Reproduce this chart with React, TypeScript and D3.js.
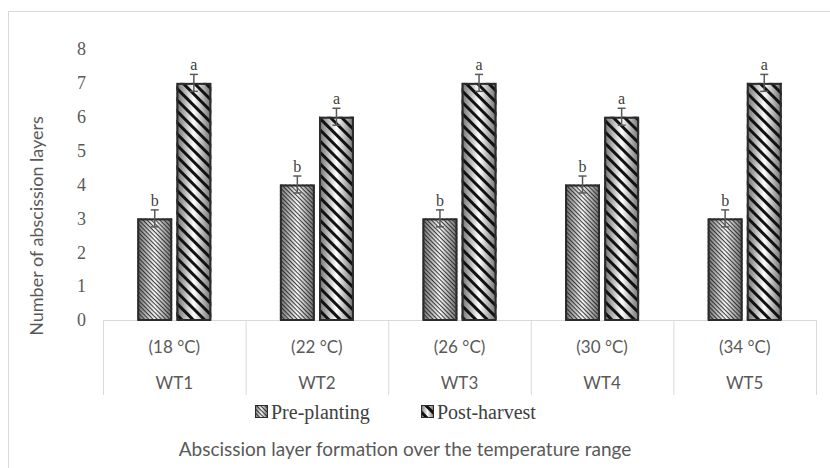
import React from "react";
import * as d3 from "d3";

const categories = ["WT1", "WT2", "WT3", "WT4", "WT5"];
const temps = ["(18 °C)", "(22 °C)", "(26 °C)", "(30 °C)", "(34 °C)"];
const seriesNames = ["Pre-planting", "Post-harvest"];
const prePlanting = [3, 4, 3, 4, 3];
const postHarvest = [7, 6, 7, 6, 7];
const preErr = [0.25, 0.25, 0.25, 0.25, 0.25];
const postErr = [0.25, 0.25, 0.25, 0.25, 0.25];
const preLetters = ["b", "b", "b", "b", "b"];
const postLetters = ["a", "a", "a", "a", "a"];
const yTicks = [0, 1, 2, 3, 4, 5, 6, 7, 8];

const W = 830;
const H = 468;
const plotLeft = 103;
const plotRight = 816;
const y0 = 320;
const yTop = 49;

export default function App() {
  const x = d3.scaleBand<string>().domain(categories).range([plotLeft, plotRight]).paddingInner(0).paddingOuter(0);
  const y = d3.scaleLinear().domain([0, 8]).range([y0, yTop]);
  const sub = d3.scaleBand<string>().domain(seriesNames).range([0, 74]).paddingInner(8 / 74);
  const bw = sub.bandwidth();
  const groupOff = (x.bandwidth() - 74) / 2;
  const serif = "'Liberation Serif', 'Times New Roman', serif";
  const sans = "Lato, 'Open Sans', sans-serif";
  const series = [
    { name: seriesNames[0], vals: prePlanting, errs: preErr, letters: preLetters, pat: "url(#patPre)" },
    { name: seriesNames[1], vals: postHarvest, errs: postErr, letters: postLetters, pat: "url(#patPost)" },
  ];
  return (
    <svg width={W} height={H} style={{ position: "absolute", left: 0, top: 0, background: "#fff" }}>
      <defs>
        <linearGradient id="gradBar" x1="0" x2="1" y1="0" y2="0">
          <stop offset="0%" stopColor="#6e6e6e" />
          <stop offset="50%" stopColor="#ffffff" />
          <stop offset="100%" stopColor="#6e6e6e" />
        </linearGradient>
        <pattern id="patPre" width="3" height="3" patternUnits="userSpaceOnUse" patternTransform="rotate(45)">
          <rect x="0" y="0" width="3" height="1.1" fill="#222" fillOpacity="0.85" />
        </pattern>
        <pattern id="patPost" width="8" height="8" patternUnits="userSpaceOnUse" patternTransform="rotate(45)">
          <rect x="0" y="0" width="8" height="3" fill="#111" />
        </pattern>
      </defs>
      <rect x={0} y={0} width={W} height={H} fill="#fff" />
      <rect x={8.5} y={11.5} width={W + 10} height={H + 10} fill="none" stroke="#d9d9d9" strokeWidth={1} />

      {/* y tick labels */}
      {yTicks.map((t) => (
        <text key={t} x={86} y={y(t)} dy="0.35em" textAnchor="end" fontFamily={serif} fontSize={18} fill="#595959">
          {t}
        </text>
      ))}

      {/* y title */}
      <text
        transform={`translate(37,226) rotate(-90)`}
        textAnchor="middle"
        dy="0.35em"
        fontFamily={sans}
        fontSize={18}
        fill="#595959"
      >
        Number of abscission layers
      </text>

      {/* category axis */}
      <line x1={plotLeft} x2={plotRight} y1={y0 + 0.5} y2={y0 + 0.5} stroke="#d9d9d9" strokeWidth={1} />
      {[...categories.map((c) => x(c) as number), plotRight].map((px, i) => (
        <line key={i} x1={px + 0.5} x2={px + 0.5} y1={y0} y2={395} stroke="#d9d9d9" strokeWidth={1} />
      ))}
      {categories.map((c, i) => (
        <g key={c}>
          <text x={(x(c) as number) + x.bandwidth() / 2} y={347} dy="0.35em" textAnchor="middle" fontFamily={sans} fontSize={17} fill="#595959">
            {temps[i]}
          </text>
          <text x={(x(c) as number) + x.bandwidth() / 2} y={383} dy="0.35em" textAnchor="middle" fontFamily={sans} fontSize={17} fill="#595959">
            {c}
          </text>
        </g>
      ))}

      {/* bars */}
      {series.map((s) =>
        categories.map((c, i) => {
          const bx = (x(c) as number) + groupOff + (sub(s.name) as number);
          const by = y(s.vals[i]);
          const bh = y0 - by;
          const cx = bx + bw / 2;
          const eTop = y(s.vals[i] + s.errs[i]);
          const eBot = y(s.vals[i] - s.errs[i]);
          return (
            <g key={s.name + c}>
              <rect x={bx} y={by} width={bw} height={bh} fill="url(#gradBar)" />
              <rect x={bx} y={by} width={bw} height={bh} fill={s.pat} />
              <rect x={bx + 1} y={by + 1} width={bw - 2} height={bh - 1} fill="none" stroke="#2b2b2b" strokeWidth={2} />
              <line x1={cx} x2={cx} y1={eTop} y2={eBot} stroke="#595959" strokeWidth={1.5} />
              <line x1={cx - 4} x2={cx + 4} y1={eTop} y2={eTop} stroke="#595959" strokeWidth={1.5} />
              <line x1={cx - 4} x2={cx + 4} y1={eBot} y2={eBot} stroke="#595959" strokeWidth={1.5} />
              <text x={cx} y={eTop - 4} textAnchor="middle" fontFamily={serif} fontSize={16} fill="#404040">
                {s.letters[i]}
              </text>
            </g>
          );
        })
      )}

      {/* legend */}
      {series.map((s, i) => {
        const lx = i === 0 ? 255 : 421;
        return (
          <g key={s.name}>
            <rect x={lx} y={405} width={13} height={13} fill="url(#gradBar)" />
            <rect x={lx} y={405} width={13} height={13} fill={s.pat} />
            <rect x={lx + 0.5} y={405.5} width={12} height={12} fill="none" stroke="#2b2b2b" strokeWidth={1} />
            <text x={lx + 16} y={412} dy="0.35em" fontFamily={serif} fontSize={20} fill="#404040">
              {s.name}
            </text>
          </g>
        );
      })}

      {/* chart title */}
      <text x={405} y={449} dy="0.35em" textAnchor="middle" fontFamily={sans} fontSize={19} fill="#595959">
        Abscission layer formation over the temperature range
      </text>
    </svg>
  );
}
